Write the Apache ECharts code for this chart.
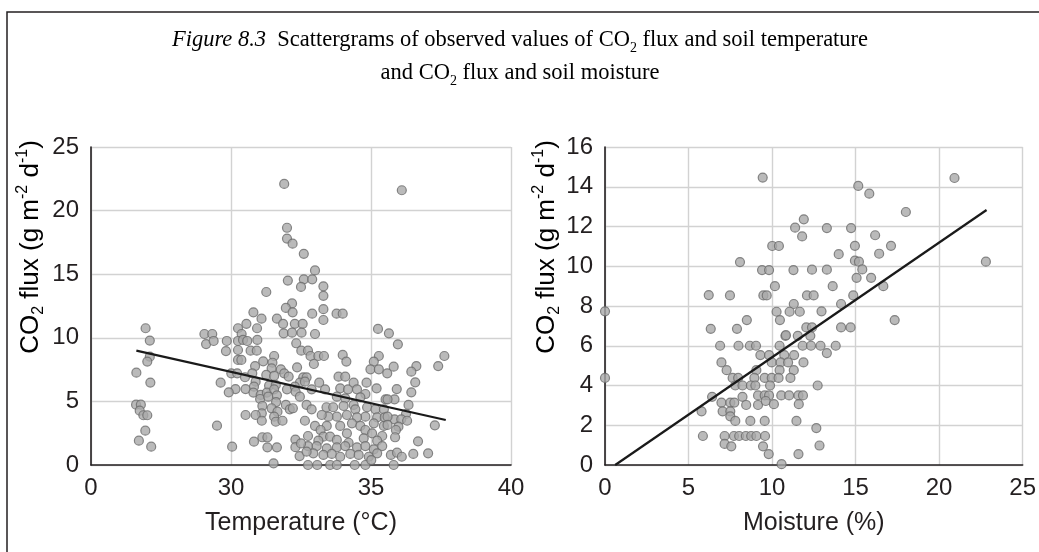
<!DOCTYPE html>
<html>
<head>
<meta charset="utf-8">
<script src="https://cdn.jsdelivr.net/npm/echarts@6/dist/echarts.min.js"></script>
<style>
  html, body { margin: 0; padding: 0; background: #fff; }
  #chart { width: 1039px; height: 552px; }
</style>
</head>
<body>
<div id="chart"></div>
<script>
// left panel: soil temperature (°C) vs CO2 flux
const tempFlux = [
  [31.9, 22.1], [36.1, 21.6], [32.0, 18.65], [32.0, 17.8], [32.2, 17.4], [32.6, 16.6], [33.0, 15.3],
  [32.03, 14.5], [32.6, 14.6], [32.9, 14.6], [32.5, 14.0], [33.3, 14.05], [33.3, 13.3], [31.26, 13.6],
  [32.18, 12.7], [31.96, 12.35], [32.2, 12.0], [32.9, 11.9], [33.3, 12.25], [33.77, 11.9], [33.99, 11.9],
  [33.3, 11.4], [30.8, 12.0], [31.09, 11.5], [31.64, 11.5], [31.86, 11.1], [32.28, 11.1], [32.56, 11.1],
  [30.55, 11.1], [30.25, 10.75], [30.93, 10.75], [26.95, 10.75], [35.25, 10.7], [35.64, 10.35],
  [29.05, 10.3], [29.33, 10.3], [30.38, 10.3], [31.88, 10.35], [32.52, 10.4], [32.18, 10.4], [33.0, 10.3],
  [27.1, 9.78], [27.1, 8.52], [27.01, 8.13], [26.62, 7.26], [27.12, 6.48], [26.61, 4.74], [26.78, 4.74],
  [26.74, 4.27], [26.87, 3.91], [27.01, 3.91], [26.94, 2.7], [26.71, 1.91], [27.15, 1.44],
  [29.11, 9.51], [29.38, 9.75], [29.85, 9.75], [29.82, 8.96], [30.25, 9.75], [30.43, 9.83], [30.58, 9.75],
  [30.94, 9.83], [30.25, 9.04], [30.7, 8.99], [30.92, 8.99], [30.25, 8.26], [30.37, 8.26], [31.54, 8.57],
  [31.15, 8.15], [31.48, 8.04], [30.86, 7.78], [31.45, 7.6], [31.78, 7.52], [30.01, 7.21], [30.22, 7.21],
  [30.5, 6.9], [30.76, 7.21], [31.26, 7.08], [31.54, 7.0], [31.9, 7.21], [32.06, 6.95], [29.63, 6.47],
  [30.88, 6.55], [31.36, 6.24], [31.6, 6.29], [30.82, 6.16], [30.16, 5.97], [29.92, 5.71], [30.52, 5.97],
  [30.8, 5.69], [31.06, 5.51], [31.28, 5.69], [31.54, 5.95], [32.0, 5.95], [31.04, 5.19], [31.33, 5.37],
  [31.64, 5.48], [31.61, 4.95], [31.12, 4.64], [31.45, 4.46], [31.96, 4.72], [32.1, 4.38], [31.66, 4.19],
  [31.1, 4.06], [30.52, 3.93], [30.88, 3.93], [31.54, 3.8], [31.1, 3.48], [31.6, 3.4], [31.84, 3.48],
  [29.5, 3.09], [30.82, 1.83], [31.12, 2.18], [31.3, 2.18], [31.3, 1.39], [31.64, 1.39], [30.04, 1.44],
  [31.52, 0.13],
  [32.33, 9.57], [32.51, 8.99], [32.75, 8.99], [32.84, 8.57], [33.12, 8.57], [33.32, 8.57], [32.96, 7.94],
  [33.99, 8.65], [34.12, 8.13], [35.28, 8.57], [35.1, 8.13], [34.98, 7.52], [35.28, 7.52], [35.58, 7.21],
  [32.36, 7.68], [32.58, 6.89], [32.7, 6.89], [32.46, 6.47], [32.64, 6.55], [32.28, 6.16], [32.31, 5.76],
  [32.88, 5.95], [33.15, 6.47], [33.36, 5.95], [33.84, 6.94], [34.08, 6.94], [33.9, 6.03], [34.18, 5.95],
  [34.38, 6.47], [34.5, 5.95], [34.84, 6.47], [35.2, 6.03], [34.8, 5.58], [35.52, 5.16], [32.46, 5.37],
  [32.21, 4.46], [32.7, 4.72], [32.88, 4.38], [33.41, 4.54], [33.65, 4.54], [33.78, 5.37], [34.08, 5.24],
  [34.02, 4.64], [34.38, 4.72], [34.62, 5.32], [34.44, 4.38], [34.86, 4.54], [35.16, 4.38], [35.46, 4.38],
  [35.22, 3.75], [35.49, 3.75], [34.8, 3.8], [34.5, 3.75], [34.14, 3.93], [33.78, 3.8], [33.48, 3.8],
  [33.24, 3.93], [32.64, 3.48], [33.0, 3.07], [33.42, 3.07], [33.9, 3.07], [34.32, 3.28], [34.62, 3.07],
  [35.1, 3.28], [35.46, 3.07], [33.2, 2.75], [32.75, 2.28], [33.3, 2.23], [33.54, 2.23], [34.14, 2.49],
  [34.8, 2.75], [35.04, 2.49], [35.4, 2.28], [33.12, 1.91], [33.78, 1.97], [34.2, 1.75], [34.74, 2.1],
  [35.22, 1.91], [32.75, 1.49], [33.06, 1.49], [33.42, 1.31], [33.78, 1.39], [34.08, 1.49], [34.5, 1.39],
  [34.8, 1.49], [35.1, 1.23], [35.4, 1.49], [32.94, 0.92], [33.3, 0.79], [33.6, 0.87], [33.9, 0.65],
  [34.26, 0.87], [34.56, 0.79], [34.92, 0.65], [35.22, 0.92], [32.75, 0.0], [33.08, 0.0], [33.54, 0.0],
  [33.78, 0.0], [34.42, 0.0], [34.8, 0.0], [35.01, 0.39], [32.3, 2.0], [32.3, 1.4], [32.45, 0.7],
  [32.5, 1.7], [32.7, 1.05],
  [35.96, 9.49], [37.62, 8.57], [37.4, 7.78], [36.62, 7.78], [35.81, 7.73], [36.44, 7.34], [36.58, 6.5],
  [35.92, 5.97], [36.44, 5.71], [35.84, 5.16], [35.59, 5.16], [36.34, 4.72], [36.25, 4.01], [35.84, 3.59],
  [36.08, 3.59], [36.29, 3.48], [35.59, 3.8], [35.59, 3.15], [35.98, 3.01], [35.89, 2.75], [37.28, 3.12],
  [35.86, 2.18], [36.68, 1.86], [35.71, 0.79], [35.93, 0.97], [36.1, 0.65], [36.51, 0.87], [37.04, 0.92],
  [35.81, 0.0]
]
const tempTrend = [[26.62, 8.99], [37.67, 3.54]]
const tempTickLabels = ['0', '30', '35', '40']

// right panel: soil moisture (%) vs CO2 flux
const moistFlux = [
  [0, 7.73], [0, 4.38], [6.21, 8.55], [6.33, 6.85], [7.9, 6.85], [6.89, 6.0], [7.99, 6.0], [8.67, 6.0],
  [9.04, 6.0], [10.45, 6.0], [11.83, 6.0], [12.33, 6.0], [12.9, 6.0], [13.81, 6.0], [10.8, 6.5],
  [11.54, 6.5], [12.29, 6.5], [9.3, 5.53], [9.82, 5.53], [10.73, 5.53], [11.32, 5.53], [13.28, 5.63],
  [6.97, 5.16], [9.98, 5.16], [10.51, 5.16], [10.96, 5.16], [11.88, 5.16], [7.28, 4.77], [9.06, 4.77],
  [10.45, 4.77], [11.3, 4.77], [7.64, 4.38], [7.97, 4.38], [8.94, 4.38], [9.56, 4.38], [9.98, 4.38],
  [10.39, 4.38], [11.1, 4.38], [7.8, 4.0], [8.23, 4.0], [8.73, 4.0], [9.0, 4.0], [9.88, 4.0], [12.73, 4.0],
  [6.41, 3.43], [8.23, 3.43], [9.16, 3.5], [9.56, 3.5], [9.82, 3.5], [10.55, 3.5], [11.02, 3.5],
  [11.58, 3.5], [11.85, 3.5], [6.97, 3.14], [7.5, 3.14], [7.74, 3.14], [8.45, 3.02], [9.16, 3.02],
  [9.62, 3.22], [10.11, 3.06], [11.6, 3.06], [5.78, 2.7], [7.04, 2.7], [7.5, 2.7], [7.5, 2.45],
  [7.8, 2.22], [8.7, 2.22], [9.56, 2.22], [11.46, 2.22], [12.65, 1.86], [5.86, 1.46], [7.16, 1.46],
  [7.72, 1.46], [8.03, 1.46], [8.43, 1.46], [8.75, 1.46], [9.06, 1.46], [9.58, 1.46], [7.16, 1.06],
  [7.56, 0.94], [9.46, 0.94], [12.84, 0.98], [9.8, 0.55], [11.58, 0.55], [10.57, 0.04],
  [9.44, 14.46], [11.9, 12.36], [11.38, 11.94], [11.8, 11.5], [10.01, 11.02], [10.41, 11.02],
  [8.08, 10.21], [9.4, 9.81], [9.82, 9.81], [11.28, 9.81], [7.48, 8.53], [9.48, 8.53], [9.68, 8.53],
  [10.17, 9.0], [8.49, 7.29], [10.27, 7.71], [10.47, 7.29], [11.3, 8.1], [11.05, 7.71], [11.66, 7.71],
  [10.83, 6.53],
  [15.16, 14.04], [15.82, 13.65], [20.92, 14.44], [18.01, 12.73], [13.28, 11.92], [14.73, 11.92],
  [16.17, 11.56], [14.96, 11.03], [17.12, 11.03], [13.99, 10.61], [16.41, 10.63], [14.96, 10.28],
  [15.2, 10.23], [22.8, 10.23], [12.39, 9.83], [13.28, 9.83], [15.4, 9.84], [15.06, 9.42], [15.93, 9.42],
  [13.63, 9.0], [16.66, 9.0], [12.09, 8.53], [12.49, 8.53], [14.86, 8.53], [14.13, 8.1], [12.96, 7.73],
  [17.34, 7.29], [12.05, 6.92], [12.39, 6.92], [14.13, 6.92], [14.7, 6.92]
]
const moistTrend = [[0.61, 0], [22.84, 12.83]]

const ink = '#231f20'
const sans = 'Liberation Sans'
const serif = 'Liberation Serif'

const myChart = echarts.init(document.getElementById('chart'), null, { renderer: 'canvas' })

function xAxisFor(gridIndex, min, max, name, formatter) {
  return {
    type: 'value',
    gridIndex,
    min,
    max,
    interval: 5,
    name,
    nameLocation: 'middle',
    nameGap: 46,
    nameTextStyle: { fontFamily: sans, fontSize: 25, color: ink },
    axisLine: { show: true, lineStyle: { color: ink, width: 1.6 } },
    axisTick: { show: false },
    axisLabel: { fontFamily: sans, fontSize: 24, color: ink, margin: 11, formatter },
    splitLine: { show: true, lineStyle: { color: '#d2d2d2', width: 1.4 } }
  }
}

function yAxisFor(gridIndex, max, interval) {
  return {
    type: 'value',
    gridIndex,
    min: 0,
    max,
    interval,
    axisLine: { show: true, lineStyle: { color: ink, width: 1.6 } },
    axisTick: { show: false },
    axisLabel: { fontFamily: sans, fontSize: 24, color: ink, margin: 12 },
    splitLine: { show: true, lineStyle: { color: '#d2d2d2', width: 1.4 } }
  }
}

const nameRich = {
  n: { fontFamily: sans, fontSize: 26, color: ink, lineHeight: 32 },
  sub: { fontFamily: sans, fontSize: 16, color: ink, verticalAlign: 'bottom' },
  sup: { fontFamily: sans, fontSize: 16, color: ink, verticalAlign: 'top' }
}
const yName = '{n|CO}{sub|2}{n| flux (g m}{sup|-2}{n| d}{sup|-1}{n|)}'

const titleRich = {
  i: { fontFamily: serif, fontStyle: 'italic', fontSize: 22.5, color: ink, lineHeight: 30 },
  t: { fontFamily: serif, fontSize: 22.5, color: ink, lineHeight: 30 },
  s: { fontFamily: serif, fontSize: 14, color: ink, verticalAlign: 'bottom' }
}

const scatterStyle = { color: '#a9a9a9', borderColor: '#6b6b6b', borderWidth: 1.2 }
const trendStyle = { color: '#1a1a1a', width: 2.2 }

myChart.setOption({
  backgroundColor: '#ffffff',
  animation: false,
  grid: [
    { left: 91, top: 147, width: 420, height: 318 },
    { left: 605, top: 147, width: 421, height: 318 }
  ],
  xAxis: [
    xAxisFor(0, 25, 40, 'Temperature (°C)', v => tempTickLabels[Math.round((v - 25) / 5)]),
    xAxisFor(1, 0, 25, 'Moisture (%)')
  ],
  yAxis: [yAxisFor(0, 25, 5), yAxisFor(1, 16, 2)],
  graphic: [
    {
      type: 'rect',
      shape: { x: 7, y: 12, width: 1200, height: 700 },
      style: { fill: 'none', stroke: ink, lineWidth: 1.5 },
      silent: true
    },
    {
      type: 'text',
      x: 520,
      y: 40,
      style: {
        text: '{i|Figure 8.3}{t|  Scattergrams of observed values of CO}{s|2}{t| flux and soil temperature}',
        rich: titleRich,
        align: 'center',
        verticalAlign: 'middle'
      }
    },
    {
      type: 'text',
      x: 520,
      y: 73,
      style: {
        text: '{t|and CO}{s|2}{t| flux and soil moisture}',
        rich: titleRich,
        align: 'center',
        verticalAlign: 'middle'
      }
    },
    {
      type: 'text',
      x: 31,
      y: 247,
      rotation: Math.PI / 2,
      style: { text: yName, rich: nameRich, align: 'center', verticalAlign: 'middle' }
    },
    {
      type: 'text',
      x: 547,
      y: 247,
      rotation: Math.PI / 2,
      style: { text: yName, rich: nameRich, align: 'center', verticalAlign: 'middle' }
    }
  ],
  series: [
    {
      type: 'scatter',
      xAxisIndex: 0,
      yAxisIndex: 0,
      symbolSize: 9,
      itemStyle: scatterStyle,
      data: tempFlux
    },
    {
      type: 'line',
      xAxisIndex: 0,
      yAxisIndex: 0,
      symbol: 'none',
      z: 5,
      lineStyle: trendStyle,
      data: tempTrend
    },
    {
      type: 'scatter',
      xAxisIndex: 1,
      yAxisIndex: 1,
      symbolSize: 9,
      itemStyle: scatterStyle,
      data: moistFlux
    },
    {
      type: 'line',
      xAxisIndex: 1,
      yAxisIndex: 1,
      symbol: 'none',
      z: 5,
      lineStyle: trendStyle,
      data: moistTrend
    }
  ]
})
</script>
</body>
</html>
